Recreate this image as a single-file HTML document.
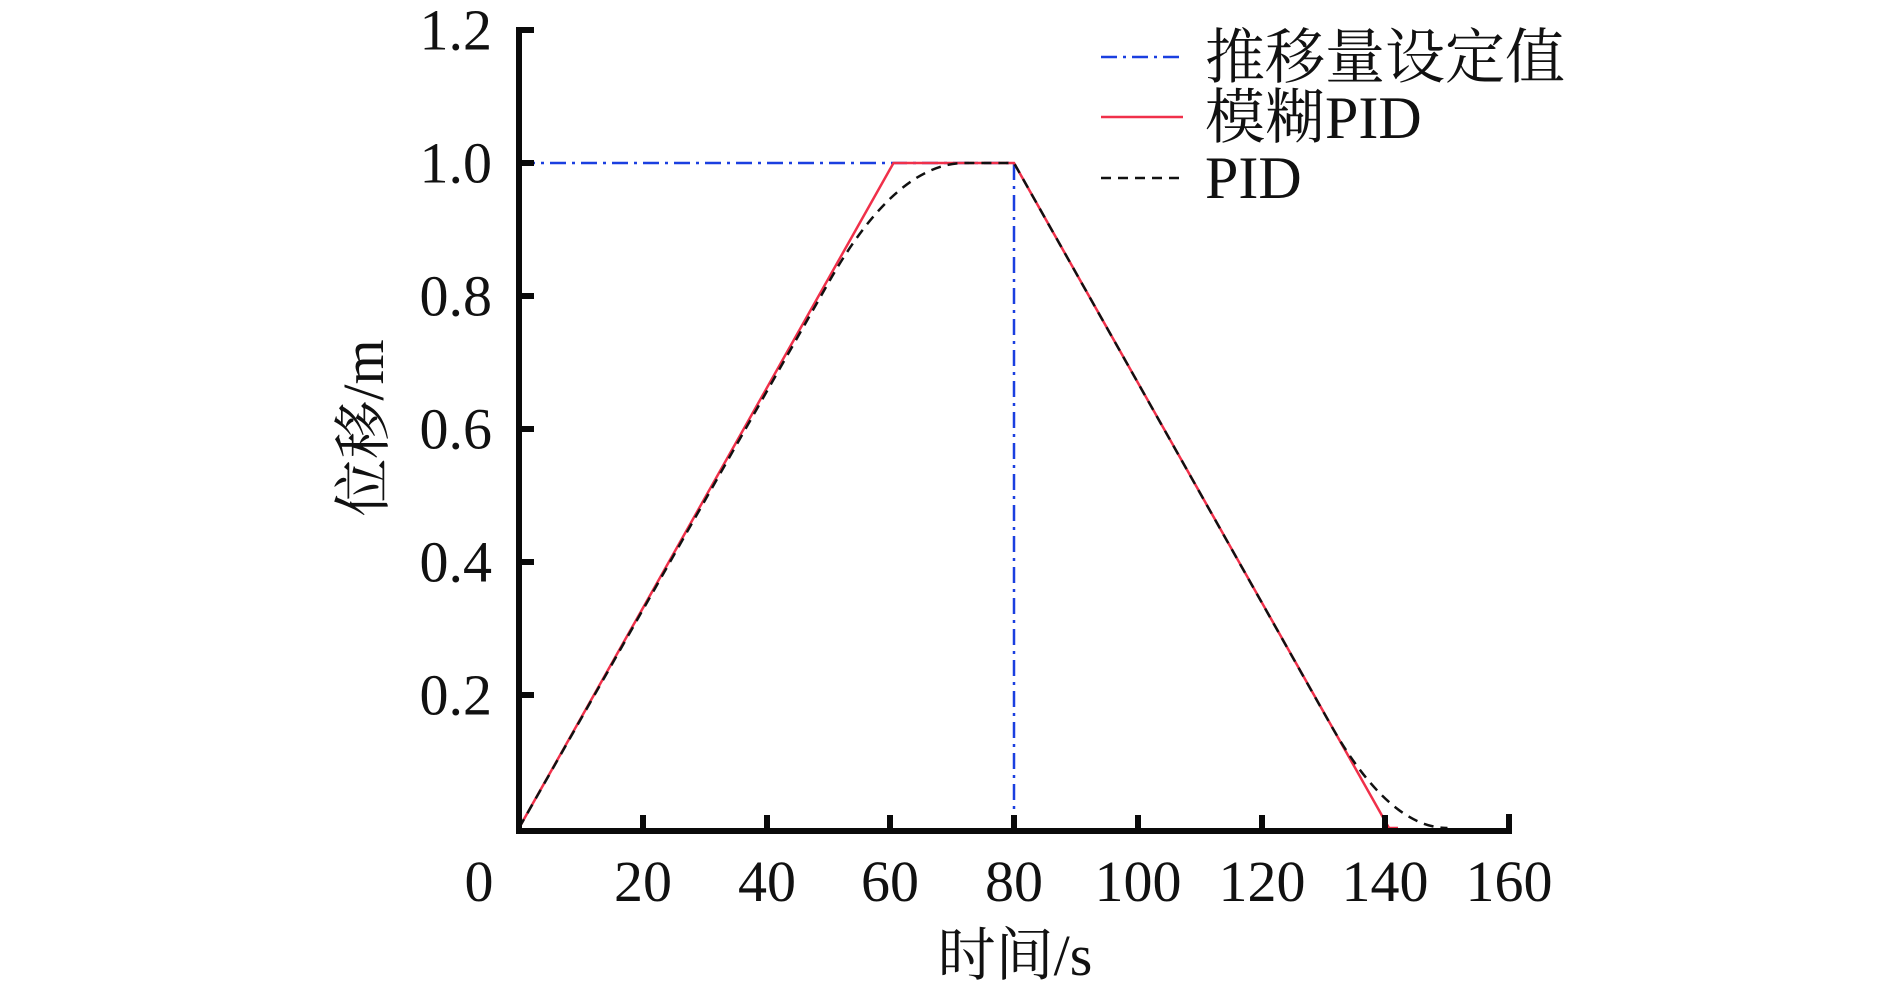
<!DOCTYPE html>
<html><head><meta charset="utf-8"><style>
html,body{margin:0;padding:0;background:#fff;}
svg{display:block;}
text{font-family:"Liberation Serif","Noto Serif CJK SC",serif;fill:#111;}
</style></head><body>
<svg width="1890" height="991" viewBox="0 0 1890 991" xmlns="http://www.w3.org/2000/svg">
<path d="M519 163 L1014 163 L1014 828" fill="none" stroke="#1a3fe0" stroke-width="2.5" stroke-dasharray="16 6 3 6"/>
<path d="M519 828 L893.5 163 L1014 163 L1389 828 L1398 828" fill="none" stroke="#f0304a" stroke-width="2.5"/>
<path d="M519 828 L828.5 282.7 Q896 163 965 163 L1014 163 L1330 723.6 Q1389 828 1447.5 828" fill="none" stroke="#111" stroke-width="2.5" stroke-dasharray="10 7"/>
<path d="M519 27 L519 831 L1509 831 L1509 814" fill="none" stroke="#0a0a0a" stroke-width="6"/>
<g stroke="#0a0a0a" stroke-width="6">
<line x1="519" y1="30" x2="534" y2="30"/>
<line x1="519" y1="163" x2="534" y2="163"/>
<line x1="519" y1="296" x2="534" y2="296"/>
<line x1="519" y1="429" x2="534" y2="429"/>
<line x1="519" y1="562" x2="534" y2="562"/>
<line x1="519" y1="695" x2="534" y2="695"/>
<line x1="643" y1="831" x2="643" y2="815"/>
<line x1="767" y1="831" x2="767" y2="815"/>
<line x1="890" y1="831" x2="890" y2="815"/>
<line x1="1014" y1="831" x2="1014" y2="815"/>
<line x1="1138" y1="831" x2="1138" y2="815"/>
<line x1="1262" y1="831" x2="1262" y2="815"/>
<line x1="1385" y1="831" x2="1385" y2="815"/>
</g>
<g font-size="58" text-anchor="end">
<text x="492" y="49.5">1.2</text>
<text x="492" y="182.5">1.0</text>
<text x="492" y="315.5">0.8</text>
<text x="492" y="448.5">0.6</text>
<text x="492" y="581.5">0.4</text>
<text x="492" y="714.5">0.2</text>
</g>
<g font-size="58" text-anchor="middle">
<text x="479" y="901">0</text>
<text x="643" y="901">20</text>
<text x="767" y="901">40</text>
<text x="890" y="901">60</text>
<text x="1014" y="901">80</text>
<text x="1138" y="901">100</text>
<text x="1262" y="901">120</text>
<text x="1385" y="901">140</text>
<text x="1509" y="901">160</text>
</g>
<text x="1015" y="975" font-size="58" text-anchor="middle">时间/s</text>
<text x="0" y="0" font-size="58" text-anchor="middle" transform="translate(383,428) rotate(-90)">位移/m</text>
<line x1="1101" y1="57" x2="1183" y2="57" stroke="#1a3fe0" stroke-width="2.5" stroke-dasharray="16 6 3 6"/>
<line x1="1101" y1="117" x2="1183" y2="117" stroke="#f0304a" stroke-width="2.5"/>
<line x1="1101" y1="178" x2="1183" y2="178" stroke="#111" stroke-width="2.5" stroke-dasharray="10 7"/>
<g font-size="60">
<text x="1205" y="78">推移量设定值</text>
<text x="1205" y="138">模糊PID</text>
<text x="1205" y="198">PID</text>
</g>
</svg>
</body></html>
